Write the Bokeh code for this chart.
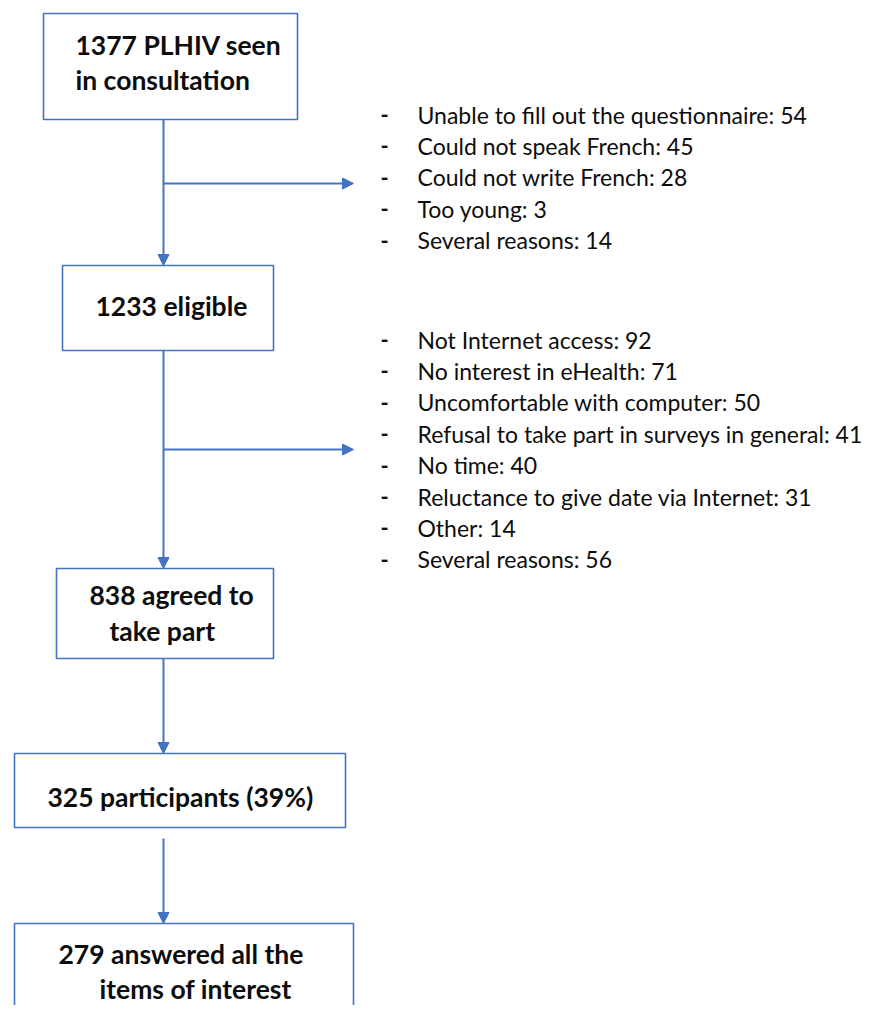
from bokeh.plotting import figure
from bokeh.models import Range1d, Arrow, NormalHead, ColumnDataSource
from bokeh.core.properties import value
from bokeh.embed import file_html
from bokeh.resources import INLINE

# ---- data ----
stage_counts = [1377, 1233, 838, 325, 279]
stage_lines = [
    ["1377 PLHIV seen", "in consultation"],
    ["1233 eligible"],
    ["838 agreed to", "take part"],
    ["325 participants (39%)"],
    ["279 answered all the", "items of interest"],
]
excl1_reasons = ["Unable to fill out the questionnaire", "Could not speak French",
                 "Could not write French", "Too young", "Several reasons"]
excl1_counts = [54, 45, 28, 3, 14]
excl2_reasons = ["Not Internet access", "No interest in eHealth", "Uncomfortable with computer",
                 "Refusal to take part in surveys in general", "No time",
                 "Reluctance to give date via Internet", "Other", "Several reasons"]
excl2_counts = [92, 71, 50, 41, 40, 31, 14, 56]

# ---- layout (pixel space) ----
box_left = [43, 62, 56, 14, 14]
box_right = [297, 273, 273, 345, 353]
box_top = [13, 265, 568, 753, 923]
box_bottom = [119, 350, 658, 827, 1040]
line_x = [[75, 75], [95], [89, 109], [47], [58, 99]]
line_y = [[44, 79], [305], [594, 630], [796], [953, 988]]
spine_x = 163
arrow_start = [119, 350, 658, 838]
branch_y = [183, 449]
branch_tip = 353
list1_y0, list2_y0, list_dy = 114, 339, 31.4
dash_x, item_x = 380, 417

BLUE = "#4472C4"
FONT = "Lato"
INK = "#0d0d0d"

p = figure(width=868, height=1005, x_range=Range1d(0, 868), y_range=Range1d(1005, 0),
           output_backend="svg", toolbar_location=None, min_border=0)
p.axis.visible = False
p.grid.visible = False
p.outline_line_color = None
p.background_fill_color = "white"

p.quad(left=box_left, right=box_right, top=box_top, bottom=box_bottom,
       fill_color="white", line_color=BLUE, line_width=1.6)

for i in range(4):
    p.add_layout(Arrow(end=NormalHead(size=11, fill_color=BLUE, line_color=BLUE),
                       x_start=spine_x, y_start=arrow_start[i], x_end=spine_x, y_end=box_top[i + 1],
                       line_color=BLUE, line_width=2))
for by in branch_y:
    p.add_layout(Arrow(end=NormalHead(size=11, fill_color=BLUE, line_color=BLUE),
                       x_start=spine_x, y_start=by, x_end=branch_tip, y_end=by,
                       line_color=BLUE, line_width=2))

tx, ty, tt = [], [], []
for lines, xs, ys in zip(stage_lines, line_x, line_y):
    for t, x, y in zip(lines, xs, ys):
        tx.append(x); ty.append(y); tt.append(t)
p.text(x=tx, y=ty, text=tt, text_font=value(FONT), text_font_style="bold",
       text_font_size="26.5px", text_baseline="middle", text_align="left", text_color=INK)

ix, iy, it = [], [], []
for reasons, counts, y0 in ((excl1_reasons, excl1_counts, list1_y0), (excl2_reasons, excl2_counts, list2_y0)):
    for k, (r, c) in enumerate(zip(reasons, counts)):
        ix.append(item_x); iy.append(y0 + k * list_dy); it.append(f"{r}: {c}")
src = ColumnDataSource(dict(x=ix, y=iy, t=it, dx=[dash_x] * len(ix), d=["-"] * len(ix)))
p.text(x="x", y="y", text="t", source=src, text_font=value(FONT), text_font_size="23px",
       text_baseline="middle", text_align="left", text_color=INK)
p.text(x="dx", y="y", text="d", source=src, text_font=value(FONT), text_font_size="22px",
       text_font_style="bold", text_baseline="middle", text_align="left", text_color=INK)

open("out.html", "w").write(file_html(p, INLINE))
